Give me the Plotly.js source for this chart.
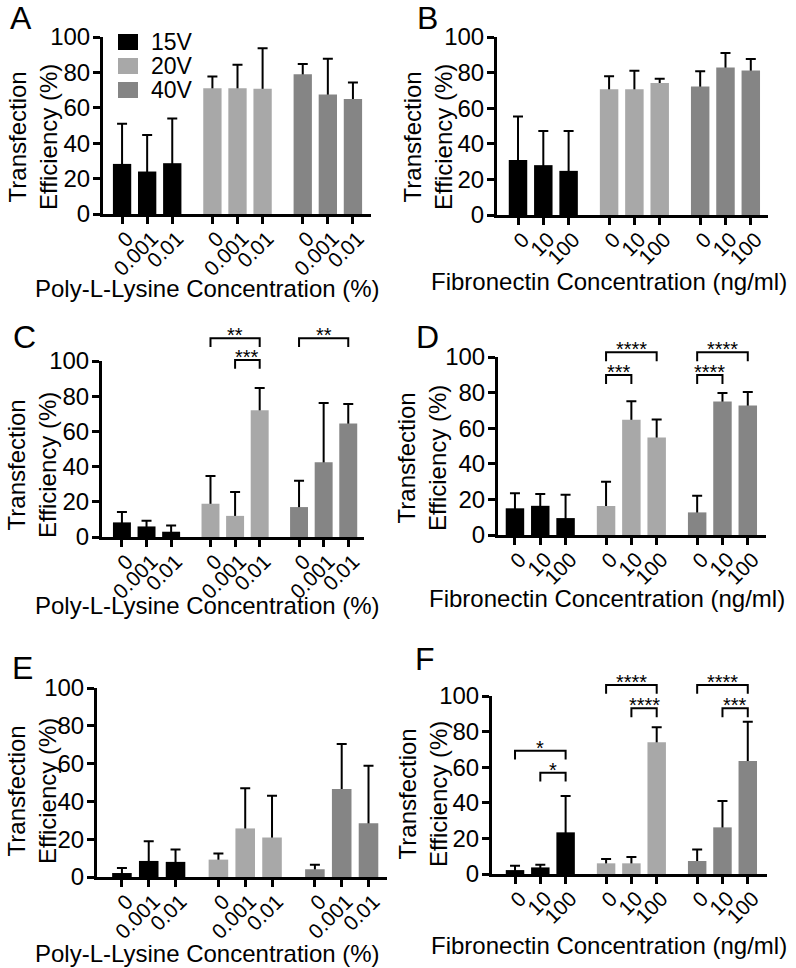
<!DOCTYPE html>
<html><head><meta charset="utf-8">
<script src="https://cdn.plot.ly/plotly-3.0.1.min.js"></script>
<style>body{margin:0;background:#fff}#chart{width:796px;height:968px}</style>
</head><body><div id="chart"></div>
<script>
// ---------------- data ----------------
const seriesNames = ["15V", "20V", "40V"];
const plyTickLabels = ["0", "0.001", "0.01"];
const fnTickLabels = ["0", "10", "100"];
const plyTitle = "Poly-L-Lysine Concentration (%)";
const fnTitle = "Fibronectin Concentration (ng/ml)";
const yTitle = "Transfection<br>Efficiency (%)";
const yTickVals = [0, 20, 40, 60, 80, 100];

// Panel A (poly-L-lysine)
const A_15V = [28.3, 24.0, 28.7], A_15V_sd = [22.7, 20.7, 25.3];
const A_20V = [71.0, 71.1, 70.8], A_20V_sd = [6.7, 13.2, 22.8];
const A_40V = [79.0, 67.5, 65.0], A_40V_sd = [5.7, 20.2, 9.3];
// Panel B (fibronectin)
const B_15V = [30.9, 28.0, 24.8], B_15V_sd = [24.4, 19.2, 22.4];
const B_20V = [70.7, 70.7, 74.1], B_20V_sd = [7.2, 10.3, 2.4];
const B_40V = [72.2, 82.9, 81.2], B_40V_sd = [8.5, 8.1, 6.4];
// Panel C
const C_15V = [8.3, 6.0, 3.0], C_15V_sd = [5.9, 3.2, 3.6];
const C_20V = [18.9, 12.0, 72.0], C_20V_sd = [15.8, 13.5, 12.7];
const C_40V = [17.0, 42.5, 64.5], C_40V_sd = [15.0, 33.7, 11.0];
// Panel D
const D_15V = [15.0, 16.4, 9.5], D_15V_sd = [8.4, 6.6, 13.1];
const D_20V = [16.3, 64.7, 54.8], D_20V_sd = [13.6, 10.4, 10.1];
const D_40V = [12.7, 75.0, 72.7], D_40V_sd = [9.3, 4.8, 7.7];
// Panel E
const E_15V = [2.1, 8.5, 8.0], E_15V_sd = [2.7, 10.4, 6.5];
const E_20V = [9.2, 25.7, 20.9], E_20V_sd = [3.2, 21.2, 22.1];
const E_40V = [4.1, 46.5, 28.5], E_40V_sd = [2.4, 23.9, 30.4];
// Panel F
const F_15V = [2.2, 3.7, 23.4], F_15V_sd = [2.5, 1.5, 20.4];
const F_20V = [6.0, 6.0, 74.0], F_20V_sd = [2.4, 3.6, 8.4];
const F_40V = [7.3, 26.2, 63.5], F_40V_sd = [6.4, 14.8, 22.1];

// significance brackets: group index, from bar, to bar, height (%), label
const C_sigGroup = [1, 1, 2], C_sigFrom = [0, 1, 0], C_sigTo = [2, 2, 2];
const C_sigY = [112.9, 100.6, 112.9], C_sigLabel = ["**", "***", "**"];
const D_sigGroup = [1, 1, 2, 2], D_sigFrom = [0, 0, 0, 0], D_sigTo = [2, 1, 2, 1];
const D_sigY = [102.6, 89.9, 102.6, 89.9], D_sigLabel = ["****", "***", "****", "****"];
const F_sigGroup = [0, 0, 1, 1, 2, 2], F_sigFrom = [0, 1, 0, 1, 0, 1], F_sigTo = [2, 2, 2, 2, 2, 2];
const F_sigY = [69.3, 56.9, 106.2, 93.1, 106.2, 93.1], F_sigLabel = ["*", "*", "****", "****", "****", "***"];

// ---------------- layout / style ----------------
const W = 796, H = 968;
const FONT = '"Liberation Sans", Arial, Helvetica, sans-serif';
const GROUP_GAP = 3.6;
const BAR_W = 0.73;
const LEG = 5;
const colors = ["#000000", "#a8a8a8", "#858585"];

const panels = [
  {letter: "A", means: [A_15V, A_20V, A_40V], sds: [A_15V_sd, A_20V_sd, A_40V_sd], ticks: plyTickLabels, xt: plyTitle,
   px: [103, 371], py: [37, 214], xr: [-0.76, 9.92], let: [21, 18], yt: [33, 137], xtc: [207, 288], sig: null},
  {letter: "B", means: [B_15V, B_20V, B_40V], sds: [B_15V_sd, B_20V_sd, B_40V_sd], ticks: fnTickLabels, xt: fnTitle,
   px: [497, 768], py: [37, 215], xr: [-0.83, 9.88], let: [427, 18], yt: [428, 137], xtc: [609, 281], sig: null},
  {letter: "C", means: [C_15V, C_20V, C_40V], sds: [C_15V_sd, C_20V_sd, C_40V_sd], ticks: plyTickLabels, xt: plyTitle,
   px: [102, 364], py: [361, 537], xr: [-0.81, 9.84], let: [24, 337], yt: [32, 465], xtc: [207, 605],
   sig: [C_sigGroup, C_sigFrom, C_sigTo, C_sigY, C_sigLabel]},
  {letter: "D", means: [D_15V, D_20V, D_40V], sds: [D_15V_sd, D_20V_sd, D_40V_sd], ticks: fnTickLabels, xt: fnTitle,
   px: [498, 766], py: [357, 535], xr: [-0.67, 9.92], let: [427, 337], yt: [422, 458], xtc: [607, 598],
   sig: [D_sigGroup, D_sigFrom, D_sigTo, D_sigY, D_sigLabel]},
  {letter: "E", means: [E_15V, E_20V, E_40V], sds: [E_15V_sd, E_20V_sd, E_40V_sd], ticks: plyTickLabels, xt: plyTitle,
   px: [97, 387], py: [688, 877], xr: [-0.93, 9.89], let: [22, 668], yt: [32, 791], xtc: [207, 953], sig: null},
  {letter: "F", means: [F_15V, F_20V, F_40V], sds: [F_15V_sd, F_20V_sd, F_40V_sd], ticks: fnTickLabels, xt: fnTitle,
   px: [492, 767], py: [696, 874], xr: [-0.91, 9.96], let: [425, 659], yt: [423, 794], xtc: [609, 945],
   sig: [F_sigGroup, F_sigFrom, F_sigTo, F_sigY, F_sigLabel]}
];

const fx = px => px / W;
const fy = py => 1 - py / H;

const errTraces = [], barTraces = [], shapes = [], annotations = [];
const layout = {
  width: W, height: H,
  margin: {l: 0, r: 0, t: 0, b: 0},
  paper_bgcolor: "#fff", plot_bgcolor: "#fff",
  barmode: "overlay",
  showlegend: false,
  font: {family: FONT, color: "#000"}
};

panels.forEach((p, k) => {
  const sfx = k === 0 ? "" : String(k + 1);
  const xa = "x" + sfx, ya = "y" + sfx;
  const pos = g => [0, 1, 2].map(i => g * GROUP_GAP + i);
  const tickvals = [].concat(pos(0), pos(1), pos(2));
  const ticktext = [].concat(p.ticks, p.ticks, p.ticks);
  const ydom = [fy(p.py[1]), fy(p.py[0])];

  layout["xaxis" + sfx] = {
    domain: [fx(p.px[0]), fx(p.px[1])], range: p.xr, anchor: ya,
    tickmode: "array", tickvals: tickvals, ticktext: ticktext, tickangle: -45,
    ticklabelstandoff: -6, ticklabelshift: 5,
    ticks: "outside", ticklen: 7, tickwidth: 3, tickcolor: "#000",
    showline: true, linewidth: 3, linecolor: "#000",
    showgrid: false, zeroline: false, fixedrange: true,
    tickfont: {family: FONT, size: 21, color: "#000"}
  };
  layout["yaxis" + sfx] = {
    domain: ydom, range: [0, 100], anchor: xa,
    tickmode: "array", tickvals: yTickVals, ticklabelstandoff: -2,
    ticks: "outside", ticklen: 7, tickwidth: 3, tickcolor: "#000",
    showline: true, linewidth: 3, linecolor: "#000",
    showgrid: false, zeroline: false, fixedrange: true,
    tickfont: {family: FONT, size: 24, color: "#000"}
  };

  for (let s = 0; s < 3; s++) {
    const xs = pos(s);
    errTraces.push({
      type: "bar", x: xs, y: p.means[s], width: BAR_W, xaxis: xa, yaxis: ya,
      marker: {color: "rgba(0,0,0,0)"}, showlegend: false, hoverinfo: "skip",
      error_y: {type: "data", symmetric: false, array: p.sds[s], arrayminus: p.means[s],
                color: "#000", thickness: 2, width: 5}
    });
    barTraces.push({
      type: "bar", x: xs, y: p.means[s], width: BAR_W, xaxis: xa, yaxis: ya,
      name: seriesNames[s], marker: {color: colors[s]}, showlegend: false
    });
  }

  const toPaperY = v => ydom[0] + v / 100 * (ydom[1] - ydom[0]);
  if (p.sig) {
    const [gArr, fArr, tArr, yArr, lArr] = p.sig;
    gArr.forEach((g, j) => {
      const x0 = g * GROUP_GAP + fArr[j], x1 = g * GROUP_GAP + tArr[j];
      const yt = toPaperY(yArr[j]), yl = toPaperY(yArr[j] - LEG);
      shapes.push({type: "path", xref: xa, yref: "paper",
        path: `M${x0},${yl} L${x0},${yt} L${x1},${yt} L${x1},${yl}`,
        line: {color: "#000", width: 2}});
      annotations.push({xref: xa, yref: "paper", x: (x0 + x1) / 2, y: yt, yanchor: "middle",
        xanchor: "center", yshift: 3, text: lArr[j], showarrow: false,
        font: {family: FONT, size: 20, color: "#000"}});
    });
  }

  // panel letter
  annotations.push({xref: "paper", yref: "paper", x: fx(p.let[0]), y: fy(p.let[1]),
    xanchor: "center", yanchor: "middle", text: p.letter, showarrow: false,
    font: {family: FONT, size: 32, color: "#000"}});
  // y title
  annotations.push({xref: "paper", yref: "paper", x: fx(p.yt[0]), y: fy(p.yt[1]),
    xanchor: "center", yanchor: "middle", text: yTitle, textangle: -90, showarrow: false,
    font: {family: FONT, size: 24, color: "#000"}});
  // x title
  annotations.push({xref: "paper", yref: "paper", x: fx(p.xtc[0]), y: fy(p.xtc[1]),
    xanchor: "center", yanchor: "middle", text: p.xt, showarrow: false,
    font: {family: FONT, size: 24, color: "#000"}});
});

// legend (inside panel A)
const legRows = [42, 66, 90];
seriesNames.forEach((nm, s) => {
  shapes.push({type: "rect", xref: "paper", yref: "paper",
    x0: fx(118), x1: fx(138), y0: fy(legRows[s] + 8), y1: fy(legRows[s] - 8),
    fillcolor: colors[s], line: {width: 0}});
  annotations.push({xref: "paper", yref: "paper", x: fx(149), y: fy(legRows[s]),
    xanchor: "left", yanchor: "middle", text: nm, showarrow: false,
    font: {family: FONT, size: 23, color: "#000"}});
});

layout.shapes = shapes;
layout.annotations = annotations;

Plotly.newPlot("chart", errTraces.concat(barTraces), layout, {staticPlot: true, displayModeBar: false});
</script>
</body></html>
